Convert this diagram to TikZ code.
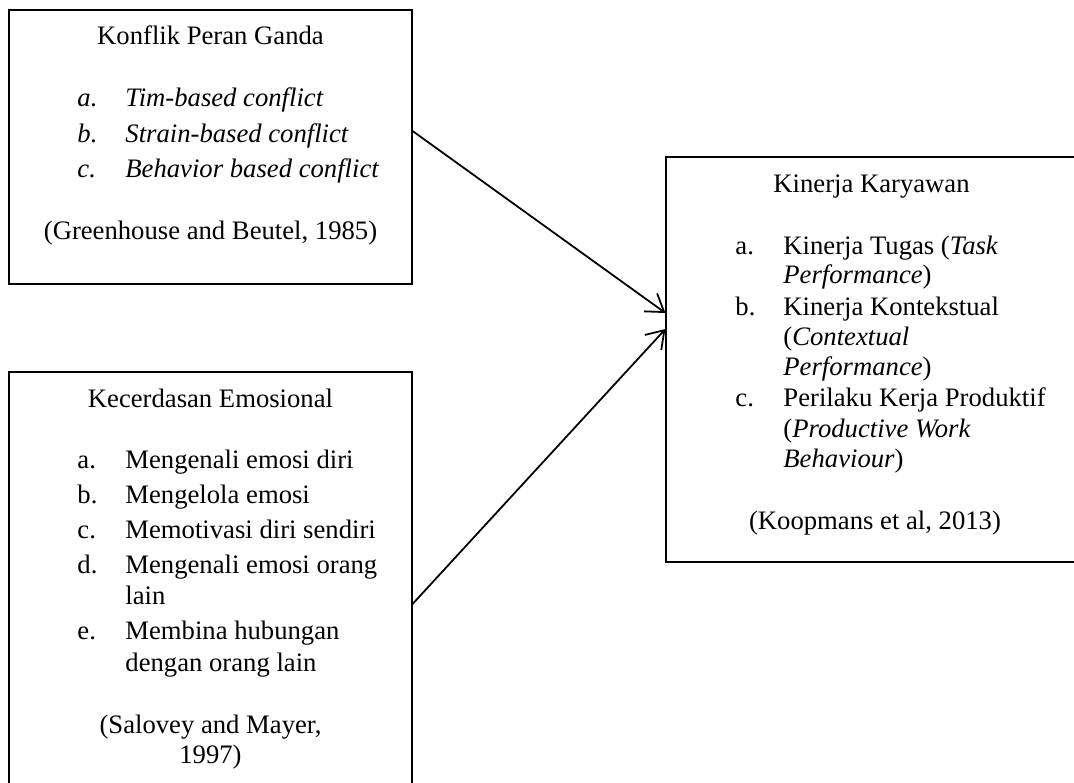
\documentclass[tikz,border=0pt]{standalone}
\usepackage{fontspec}
\setmainfont{Liberation Serif}
\usetikzlibrary{arrows.meta,positioning,calc,fit}
\tikzset{box/.style={draw,line width=0.5pt,inner sep=0pt},
  txt/.style={inner sep=0pt,anchor=base,font=\fontsize{12}{14}\selectfont},
  lbl/.style={txt,anchor=base west},
  arr/.style={-{Straight Barb[length=7.5pt,width=10pt]},line width=0.8pt}}

\begin{document}
\begin{tikzpicture}[x=0.45pt,y=-0.45pt]
\useasboundingbox (0,0) rectangle (1074,783);
\node[box,fit={(9,10) (412,284)}] (kp) {};
\node[box,fit={(9,372) (412,795)}] (ke) {};
\node[box,fit={(666,157) (1085,562)}] (kk) {};
% konflik peran ganda
\node[txt] (kpT) at (210.5,45) {Konflik Peran Ganda};
\node[lbl] (kpa) at (77,107) {\textit{a.}}; \node[lbl] (kpA) at (125,107) {\textit{Tim-based conflict}};
\node[lbl] (kpb) at (77,142) {\textit{b.}}; \node[lbl] (kpB) at (125,142) {\textit{Strain-based conflict}};
\node[lbl] (kpc) at (77,177) {\textit{c.}}; \node[lbl] (kpC) at (125,177) {\textit{Behavior based conflict}};
\node[txt] (kpS) at (210.5,239) {(Greenhouse and Beutel, 1985)};
% kecerdasan emosional
\node[txt] (keT) at (210.5,407) {Kecerdasan Emosional};
\node[lbl] (kea) at (77,468) {a.}; \node[lbl] (keA) at (125,468) {Mengenali emosi diri};
\node[lbl] (keb) at (77,503) {b.}; \node[lbl] (keB) at (125,503) {Mengelola emosi};
\node[lbl] (kec) at (77,538) {c.}; \node[lbl] (keC) at (125,538) {Memotivasi diri sendiri};
\node[lbl] (ked) at (77,573) {d.}; \node[lbl] (keD) at (125,573) {Mengenali emosi orang};
\node[lbl] (keD2) at (125,604) {lain};
\node[lbl] (kee) at (77,639) {e.}; \node[lbl] (keE) at (125,639) {Membina hubungan};
\node[lbl] (keE2) at (125,671) {dengan orang lain};
\node[txt] (keS) at (210.5,733) {(Salovey and Mayer,};
\node[txt] (keS2) at (210.5,763) {1997)};
% kinerja karyawan
\node[txt] (kkT) at (871.5,192) {Kinerja Karyawan};
\node[lbl] (kka) at (735,254) {a.}; \node[lbl] (kkA) at (783,254) {Kinerja Tugas (\textit{Task}};
\node[lbl] (kkA2) at (783,283) {\textit{Performance})};
\node[lbl] (kkb) at (735,315) {b.}; \node[lbl] (kkB) at (783,315) {Kinerja Kontekstual};
\node[lbl] (kkB2) at (783,345) {(\textit{Contextual}}; \node[lbl] (kkB3) at (783,375) {\textit{Performance})};
\node[lbl] (kkc) at (735,406) {c.}; \node[lbl] (kkC) at (783,406) {Perilaku Kerja Produktif};
\node[lbl] (kkC2) at (783,437) {(\textit{Productive Work}}; \node[lbl] (kkC3) at (783,467) {\textit{Behaviour})};
\node[txt] (kkS) at (875,529) {(Koopmans et al, 2013)};
\draw[arr] ($(kp.east)+(0,-16)$) -- ($(kk.west)+(0,-46.5)$);
\draw[arr] ($(ke.east)+(0,20.5)$) -- ($(kk.west)+(0,-30.5)$);
\end{tikzpicture}
\end{document}
